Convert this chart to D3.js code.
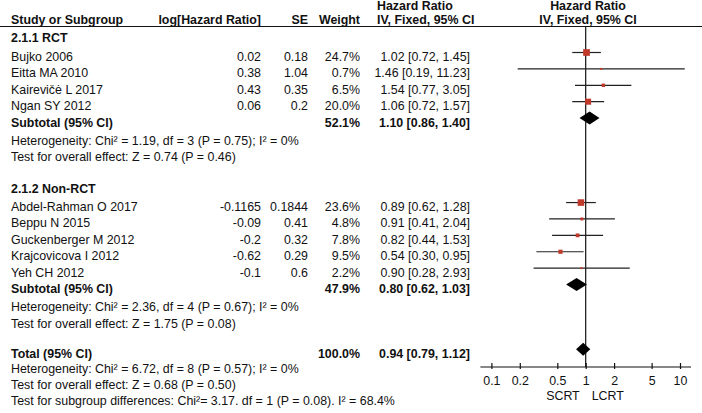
<!DOCTYPE html>
<html>
<head>
<meta charset="utf-8">
<script src="https://cdn.jsdelivr.net/npm/d3@7"></script>
<style>
  body { margin: 0; background: #fff; }
  svg { display: block; font-family: "Liberation Sans", Arial, sans-serif; font-size: 12.4px; }
  .b { font-weight: bold; }
</style>
</head>
<body>
<svg width="702" height="413"></svg>
<script>
// group 1: RCT
var studies1 = ["Bujko 2006", "Eitta MA 2010", "Kairevičė L 2017", "Ngan SY 2012"];
var logHR1 = [0.02, 0.38, 0.43, 0.06];
var se1 = [0.18, 1.04, 0.35, 0.2];
var weight1 = [24.7, 0.7, 6.5, 20.0];
var hr1 = [1.02, 1.46, 1.54, 1.06];
var lo1 = [0.72, 0.19, 0.77, 0.72];
var hi1 = [1.45, 11.23, 3.05, 1.57];
var subtotal1 = {weight: 52.1, hr: 1.10, lo: 0.86, hi: 1.40};
var notes1 = ["Heterogeneity: Chi² = 1.19, df = 3 (P = 0.75); I² = 0%",
              "Test for overall effect: Z = 0.74 (P = 0.46)"];

// group 2: Non-RCT
var studies2 = ["Abdel-Rahman O 2017", "Beppu N 2015", "Guckenberger M 2012", "Krajcovicova I 2012", "Yeh CH 2012"];
var logHR2 = [-0.1165, -0.09, -0.2, -0.62, -0.1];
var se2 = [0.1844, 0.41, 0.32, 0.29, 0.6];
var weight2 = [23.6, 4.8, 7.8, 9.5, 2.2];
var hr2 = [0.89, 0.91, 0.82, 0.54, 0.90];
var lo2 = [0.62, 0.41, 0.44, 0.30, 0.28];
var hi2 = [1.28, 2.04, 1.53, 0.95, 2.93];
var subtotal2 = {weight: 47.9, hr: 0.80, lo: 0.62, hi: 1.03};
var notes2 = ["Heterogeneity: Chi² = 2.36, df = 4 (P = 0.67); I² = 0%",
              "Test for overall effect: Z = 1.75 (P = 0.08)"];

var total = {weight: 100.0, hr: 0.94, lo: 0.79, hi: 1.12};
var totalNotes = ["Heterogeneity: Chi² = 6.72, df = 8 (P = 0.57); I² = 0%",
                  "Test for overall effect: Z = 0.68 (P = 0.50)",
                  "Test for subgroup differences: Chi²= 3.17. df = 1 (P = 0.08). I² = 68.4%"];

var tickVals = [0.1, 0.2, 0.5, 1, 2, 5, 10];
var favours = ["SCRT", "LCRT"];

var svg = d3.select("svg");

var x = d3.scaleLog().domain([0.1, 10]).range([491.4, 680]);
var y = d3.scaleLinear().domain([0, 1]).range([61, 77.4]);

var col = {name: 11, logHR: 261, se: 308, weight: 360, ci: 470, hrHead: 377};
var axisY = 367;
var markOff = -8.5;

function fmtCI(h, l, u) {
    return h.toFixed(2) + " [" + l.toFixed(2) + ", " + u.toFixed(2) + "]";
}

function txt(xp, yp, s, anchor, bold) {
    return svg.append("text")
        .attr("x", xp)
        .attr("y", yp)
        .attr("text-anchor", anchor || "start")
        .attr("class", bold ? "b" : null)
        .attr("fill", "#111")
        .text(s);
}

// headers
txt(col.hrHead, 10, "Hazard Ratio", "start", true);
txt(588, 10, "Hazard Ratio", "middle", true);
txt(col.name, 24, "Study or Subgroup", "start", true);
txt(col.logHR, 24, "log[Hazard Ratio]", "end", true);
txt(col.se, 24, "SE", "end", true);
txt(col.weight, 24, "Weight", "end", true);
txt(col.hrHead, 24, "IV, Fixed, 95% CI", "start", true);
txt(588, 24, "IV, Fixed, 95% CI", "middle", true);

svg.append("line")
    .attr("x1", 0).attr("x2", 702)
    .attr("y1", 26.5).attr("y2", 26.5)
    .attr("stroke", "#111").attr("stroke-width", 1.2);

// line of no effect
svg.append("line")
    .attr("x1", x(1)).attr("x2", x(1))
    .attr("y1", 26.5).attr("y2", axisY)
    .attr("stroke", "#111").attr("stroke-width", 1.2);

function diamond(d, yy) {
    var h = 6.5;
    svg.append("path")
        .attr("d", "M" + x(d.lo) + "," + yy + "L" + x(d.hr) + "," + (yy - h) +
                   "L" + x(d.hi) + "," + yy + "L" + x(d.hr) + "," + (yy + h) + "Z")
        .attr("fill", "#000");
}

function group(title, names, lhr, se, w, hr, lo, hi, sub, notes, start, headAt, noteAt) {
    txt(col.name, y(headAt), title, "start", true);
    names.forEach(function(n, i) {
        var yy = y(start + i);
        txt(col.name, yy, n);
        txt(col.logHR, yy, String(lhr[i]), "end");
        txt(col.se, yy, String(se[i]), "end");
        txt(col.weight, yy, w[i].toFixed(1) + "%", "end");
        txt(col.ci, yy, fmtCI(hr[i], lo[i], hi[i]), "end");

        svg.append("line")
            .attr("x1", x(lo[i])).attr("x2", x(hi[i]))
            .attr("y1", yy + markOff).attr("y2", yy + markOff)
            .attr("stroke", "#222").attr("stroke-width", 1.2);
        var s = Math.max(2, 1.35 * Math.sqrt(w[i]));
        svg.append("rect")
            .attr("x", x(hr[i]) - s / 2)
            .attr("y", yy + markOff - s / 2)
            .attr("width", s).attr("height", s)
            .attr("fill", "#c0392b");
    });
    var ys = y(start + names.length);
    txt(col.name, ys, "Subtotal (95% CI)", "start", true);
    txt(col.weight, ys, sub.weight.toFixed(1) + "%", "end", true);
    txt(col.ci, ys, fmtCI(sub.hr, sub.lo, sub.hi), "end", true);
    diamond(sub, ys + markOff);
    notes.forEach(function(t, i) {
        txt(col.name, y(noteAt + i), t);
    });
}

group("2.1.1 RCT", studies1, logHR1, se1, weight1, hr1, lo1, hi1, subtotal1, notes1, 0, -1.15, 5.1);
group("2.1.2 Non-RCT", studies2, logHR2, se2, weight2, hr2, lo2, hi2, subtotal2, notes2, 9.15, 8.05, 15.25);

// total
var yt = y(18.1);
txt(col.name, yt, "Total (95% CI)", "start", true);
txt(col.weight, yt, total.weight.toFixed(1) + "%", "end", true);
txt(col.ci, yt, fmtCI(total.hr, total.lo, total.hi), "end", true);
diamond(total, yt + markOff);
totalNotes.forEach(function(t, i) {
    txt(col.name, y(19.05 + 0.95 * i), t);
});

// axis
svg.append("line")
    .attr("x1", x(0.1) - 11).attr("x2", x(10) + 11)
    .attr("y1", axisY).attr("y2", axisY)
    .attr("stroke", "#111").attr("stroke-width", 1.2);

var ax = svg.append("g")
    .attr("transform", "translate(0," + axisY + ")")
    .call(d3.axisBottom(x).tickValues(tickVals).tickFormat(function(d) { return String(d); })
        .tickSize(2).tickPadding(7.5).tickSizeOuter(0));
ax.select(".domain").remove();
ax.selectAll(".tick line").attr("y1", -4).attr("stroke", "#111").attr("stroke-width", 1.2);
ax.selectAll(".tick text")
    .attr("fill", "#111")
    .style("font-family", "'Liberation Sans', Arial, sans-serif")
    .style("font-size", "12.4px");

txt(x(1) - 6, 399.5, favours[0], "end");
txt(x(1) + 6, 399.5, favours[1], "start");
</script>
</body>
</html>
